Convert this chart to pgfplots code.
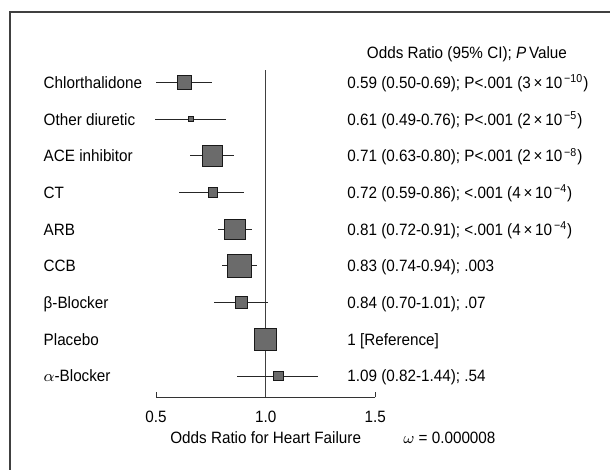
\documentclass[border=0pt]{standalone}
\usepackage{fontspec}
\setmainfont{Liberation Sans}[FakeStretch=0.93]
\usepackage{pgfplots}
\pgfplotsset{compat=1.18}
\usepackage{pgfplotstable}

% row: 9 = top (Chlorthalidone) ... 1 = bottom (alpha-blocker); sz = half side of square, pt
\pgfplotstableread{
row est   lo    hi    sz
9   0.630 0.500 0.757 3.55
8   0.658 0.496 0.818 1.35
7   0.756 0.655 0.857 5.1
6   0.760 0.606 0.902 2.4
5   0.860 0.784 0.936 5.1
4   0.880 0.801 0.959 5.95
3   0.889 0.763 1.010 2.9
2   1.000 1.000 1.000 5.55
1   1.057 0.868 1.240 2.4
}\ordata

\tikzset{lab/.style={anchor=base west, inner sep=0pt, yshift=-2.95pt}}
\newcommand{\sci}[2]{#1\,×\,10\textsuperscript{\,−#2}}

\begin{document}
\begin{tikzpicture}[font=\fontsize{8.2}{10}\selectfont]
\useasboundingbox (0,0) rectangle (305pt,-235pt);
\begin{axis}[
    at={(78.05pt,-198.65pt)}, anchor=south west,
    scale only axis,
    width=109.6pt, height=163.65pt,
    xmin=0.5, xmax=1.5,
    ymin=0.42, ymax=9.338,
    axis x line*=bottom,
    axis y line=none,
    x axis line style={-, black!80, line width=0.5pt},
    xtick={0.5,1,1.5},
    xticklabels={0.5,1.0,1.5},
    tick align=inside,
    major tick length=2.5pt,
    xtick style={black!80, line width=0.5pt},
    xticklabel style={yshift=-3.4pt},
    xlabel={Odds Ratio for Heart Failure},
    xlabel style={at={(axis description cs:0.5,-0.1244)}, anchor=base, yshift=-2.95pt},
    clip=false,
]
% reference line at OR = 1
\addplot[black!75, line width=0.5pt] coordinates {(1,0.42) (1,9.338)};

\addplot[
    only marks, scatter, mark=square*,
    scatter/use mapped color={draw=black!90, fill=black!58},
    visualization depends on={\thisrow{sz} \as \msz},
    scatter/@pre marker code/.append style={/tikz/mark size=\msz pt, /tikz/line width=0.5pt},
    error bars/.cd, x dir=both, x explicit, error mark=none,
    error bar style={black!85, line width=0.5pt},
] table[x=est, y=row,
        x error plus expr=\thisrow{hi}-\thisrow{est},
        x error minus expr=\thisrow{est}-\thisrow{lo}] {\ordata};

% row labels
\node[lab] at (axis cs:-0.0146,9) {Chlorthalidone};
\node[lab] at (axis cs:-0.0146,8) {Other diuretic};
\node[lab] at (axis cs:-0.0146,7) {ACE inhibitor};
\node[lab] at (axis cs:-0.0146,6) {CT};
\node[lab] at (axis cs:-0.0146,5) {ARB};
\node[lab] at (axis cs:-0.0146,4) {CCB};
\node[lab] at (axis cs:-0.0146,3) {β-Blocker};
\node[lab] at (axis cs:-0.0146,2) {Placebo};
\node[lab] at (axis cs:-0.0146,1) {$\alpha$-Blocker};

% estimates column
\node[anchor=base, inner sep=0pt, yshift=-2.95pt] at (axis cs:1.918,9.80)
  {Odds Ratio (95\% CI); \textit{P}\,Value};
\node[lab] at (axis cs:1.371,9) {0.59 (0.50-0.69); P<.001 (\sci{3}{10})};
\node[lab] at (axis cs:1.371,8) {0.61 (0.49-0.76); P<.001 (\sci{2}{5})};
\node[lab] at (axis cs:1.371,7) {0.71 (0.63-0.80); P<.001 (\sci{2}{8})};
\node[lab] at (axis cs:1.371,6) {0.72 (0.59-0.86); <.001 (\sci{4}{4})};
\node[lab] at (axis cs:1.371,5) {0.81 (0.72-0.91); <.001 (\sci{4}{4})};
\node[lab] at (axis cs:1.371,4) {0.83 (0.74-0.94); .003};
\node[lab] at (axis cs:1.371,3) {0.84 (0.70-1.01); .07};
\node[lab] at (axis cs:1.371,2) {1 [Reference]};
\node[lab] at (axis cs:1.371,1) {1.09 (0.82-1.44); .54};

\node[lab] at (axis cs:1.626,-0.689) {$\omega$ = 0.000008};
\end{axis}
% cropped outer frame (top and left edges only are visible)
\draw[black!75, line width=0.75pt] (5pt,-235pt) -- (5pt,-6pt) -- (305pt,-6pt);
\end{tikzpicture}
\end{document}
